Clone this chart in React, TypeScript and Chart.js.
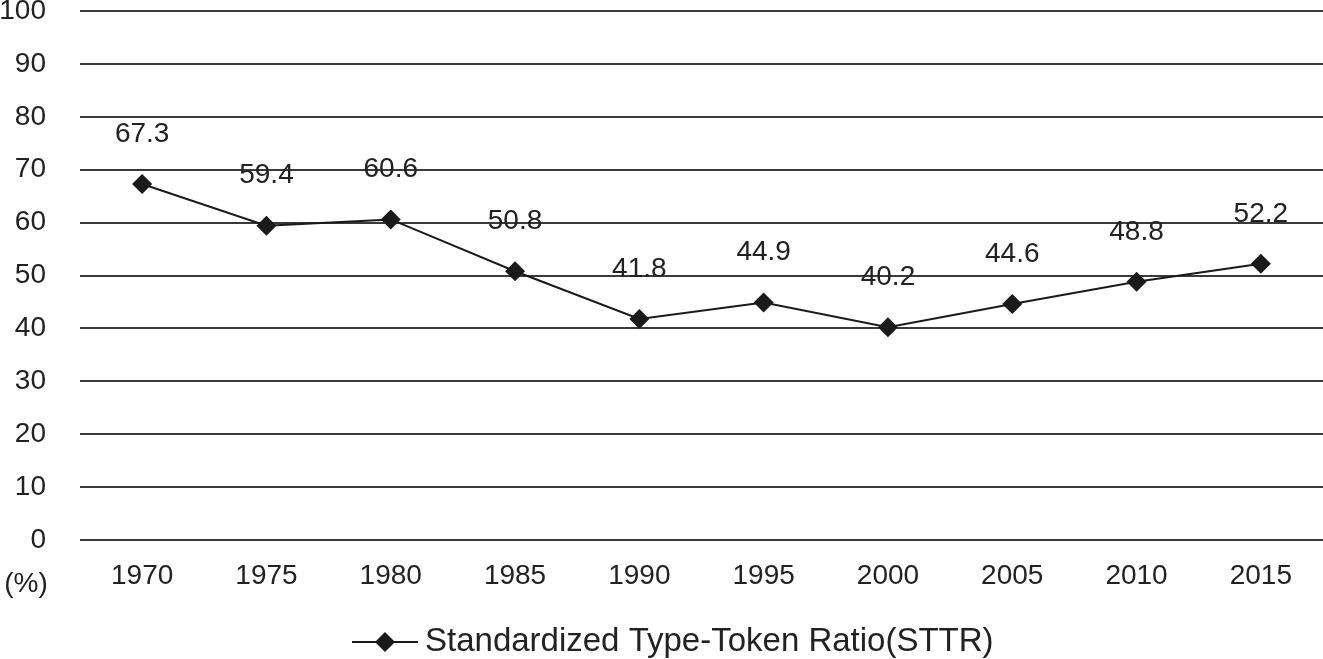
import React, { useEffect, useRef } from "react";
import { Chart, registerables } from "chart.js";

Chart.register(...registerables);

const years = ["1970", "1975", "1980", "1985", "1990", "1995", "2000", "2005", "2010", "2015"];
const sttr = [67.3, 59.4, 60.6, 50.8, 41.8, 44.9, 40.2, 44.6, 48.8, 52.2];
const seriesName = "Standardized Type-Token Ratio(STTR)";
const unitLabel = "(%)";

const FONT = "'Liberation Sans', Arial, sans-serif";
const TEXT = "#222222";

const extras = {
  id: "extras",
  afterDatasetsDraw(chart: any) {
    const ctx = chart.ctx;
    const meta = chart.getDatasetMeta(0);
    ctx.save();
    ctx.fillStyle = TEXT;
    ctx.font = `28px ${FONT}`;
    ctx.textAlign = "center";
    ctx.textBaseline = "middle";
    meta.data.forEach((pt: any, i: number) => {
      ctx.fillText(sttr[i].toFixed(1), pt.x, pt.y - 50);
    });
    ctx.fillText(unitLabel, 26, 584);
    const ly = 642;
    ctx.strokeStyle = "#1a1a1a";
    ctx.lineWidth = 2;
    ctx.beginPath();
    ctx.moveTo(352, ly);
    ctx.lineTo(418, ly);
    ctx.stroke();
    ctx.fillStyle = "#1a1a1a";
    ctx.beginPath();
    ctx.moveTo(385, ly - 10);
    ctx.lineTo(395, ly);
    ctx.lineTo(385, ly + 10);
    ctx.lineTo(375, ly);
    ctx.closePath();
    ctx.fill();
    ctx.fillStyle = TEXT;
    ctx.font = `33px ${FONT}`;
    ctx.textAlign = "left";
    ctx.fillText(seriesName, 425, ly);
    ctx.restore();
  },
};

export default function App() {
  const ref = useRef<HTMLCanvasElement>(null);
  useEffect(() => {
    if (!ref.current) return;
    const chart = new Chart(ref.current, {
      type: "line",
      data: {
        labels: years,
        datasets: [
          {
            label: seriesName,
            data: sttr,
            borderColor: "#1a1a1a",
            borderWidth: 2,
            backgroundColor: "#1a1a1a",
            pointStyle: "rectRot",
            pointRadius: 10,
            pointBackgroundColor: "#1a1a1a",
            pointBorderWidth: 0,
            tension: 0,
          },
        ],
      },
      options: {
        animation: false,
        responsive: false,
        layout: { autoPadding: false, padding: { top: 11, right: 0, left: 0, bottom: 59 } },
        plugins: { legend: { display: false }, tooltip: { enabled: false } },
        scales: {
          x: {
            offset: true,
            grid: { display: false, drawTicks: false },
            border: { display: false },
            ticks: { color: TEXT, font: { family: FONT, size: 28 }, padding: 19, maxRotation: 0, autoSkip: false },
            afterFit: (s: any) => {
              s.height = 60;
              s.paddingLeft = 0;
              s.paddingRight = 0;
            },
          },
          y: {
            min: 0,
            max: 100,
            ticks: { stepSize: 10, color: TEXT, font: { family: FONT, size: 28 }, padding: 34 },
            grid: { color: "#3a3a3a", lineWidth: 2, drawTicks: false },
            border: { display: false },
            afterFit: (s: any) => {
              s.width = 80;
              s.paddingTop = 0;
              s.paddingBottom = 0;
            },
          },
        },
      },
      plugins: [extras],
    });
    return () => chart.destroy();
  }, []);
  return (
    <div style={{ position: "fixed", left: 0, top: 0, width: 1323, height: 659, background: "#fff" }}>
      <canvas ref={ref} width={1323} height={659} style={{ display: "block" }} />
    </div>
  );
}
